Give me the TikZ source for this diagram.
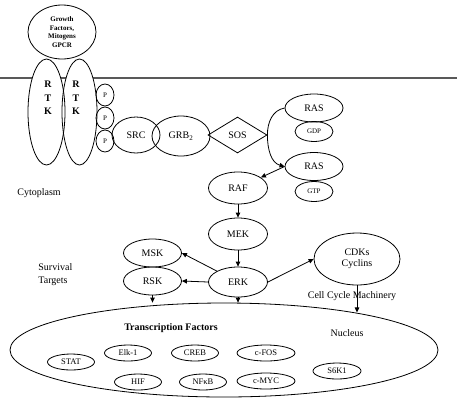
\documentclass[tikz,border=0pt]{standalone}
\usepackage{fontspec}
\setmainfont{Liberation Serif}
\usetikzlibrary{arrows.meta,shapes.geometric}
\begin{document}
\begin{tikzpicture}[x=1pt, y=-1pt, line width=0.8pt]
    \tikzset{
      mol/.style={draw, ellipse, inner sep=0pt, font=\fontsize{10}{11}\selectfont},
      tiny/.style={mol, font=\fontsize{7}{8}\selectfont},
      tf/.style={mol, minimum height=16, font=\fontsize{8.5}{9}\selectfont},
      txt/.style={inner sep=0pt, align=left, font=\fontsize{10}{13}\selectfont},
      arr/.style={-{Triangle[length=5pt, width=4.5pt]}},
    }
    \useasboundingbox (0,0) rectangle (457,400);

    \draw[line width=1.6pt, black!65] (0,78) -- (457,78);
    \path[fill=white]
      (46.5,112) ellipse [x radius=18.5, y radius=53]
      (79.5,112) ellipse [x radius=17.5, y radius=53];

    \node[mol, minimum width=68, minimum height=54, align=center,
      font=\fontsize{7}{8.5}\selectfont\bfseries] (gf) at (62,32)
      {Growth\\Factors,\\Mitogens\\GPCR};

    \path
    foreach \i/\x/\w/\t in {1/46.5/37/48, 2/79.5/35/76} {
      (\x,112) node[mol, minimum width=\w, minimum height=106] (rtk-\i) {}
      (\t,98) node[align=center, inner sep=0pt,
        font=\fontsize{10}{13.5}\selectfont\bfseries] (rtk-\i-t) {R\\T\\K}
    }
    foreach \i/\y in {1/95, 2/118, 3/141} {
      (105,\y) node[tiny, minimum width=18, minimum height=22] (p-\i) {P}
    };

    \path
    foreach \name/\x/\y/\w/\h/\txt in {
      src/136/135/48/36/SRC, grb/181/136/58/40/GRB\textsubscript{2},
      ras-1/314/108/58/28/RAS, ras-2/314/166.5/58/28/RAS,
      raf/238/188/59/32/RAF, mek/238/234/59/32/MEK, erk/238/282/59/30/ERK,
      msk/152.5/253/58/28/MSK, rsk/152.5/281/58/28/RSK
    } { (\x,\y) node[mol, minimum width=\w, minimum height=\h] (\name) {\txt} }
    foreach \name/\y/\txt in {gdp/131.5/GDP, gtp/191.5/GTP} {
      (314,\y) node[tiny, minimum width=38, minimum height=20] (\name) {\txt}
    };

    \node[draw, diamond, inner sep=0pt, minimum width=59, minimum height=36,
      font=\fontsize{10}{11}\selectfont] (sos) at (237.5,135) {SOS};
    \node[mol, minimum width=86, minimum height=52, align=center] (cdk)
      at (357,259) {CDKs\\Cyclins};
    \node[mol, minimum width=428, minimum height=94] (nuc) at (224,350) {};

    \path
    foreach \name/\x/\y/\w/\txt in {
      stat/71/362/47/STAT, elk/128/353/47/Elk-1, creb/195/353/47/CREB,
      cfos/266/353/58/c-FOS, hif/138/382/47/HIF, nfkb/203/382/47/NFκB,
      cmyc/266/381/58/c-MYC, s6k/337/371/48/S6K1
    } { (\x,\y) node[tf, minimum width=\w] (\name) {\txt} };

    \node[txt, anchor=west] (cyto) at (17,193) {Cytoplasm};
    \node[txt, anchor=west] (surv) at (38,275) {Survival\\Targets};
    \node[txt, font=\fontsize{10}{11}\selectfont\bfseries] (tfs) at (171,328)
      {Transcription Factors};
    \node[txt] (nuc-t) at (347,333) {Nucleus};
    \node[txt] (ccm) at (352,296) {Cell Cycle Machinery};

    \draw[arr] (ras-1.west) to[out=190, in=90] (sos.east)
      to[out=-90, in=165] (ras-2.west);
    \draw[arr] (ras-2.west) -- (raf);
    \draw[arr] (raf) -- (mek);
    \draw[arr] (mek) -- (erk);
    \draw[arr] (erk) -- (msk.east);
    \draw[arr] (erk.west) -- (rsk.east);
    \draw[arr] (erk.east) -- (cdk.west);
    \draw[arr] (rsk) -- (rsk |- nuc.north);
    \draw[arr] (erk) -- (erk |- nuc.north);
    \draw[arr] (cdk) -- (cdk |- nuc.16);
\end{tikzpicture}
\end{document}
